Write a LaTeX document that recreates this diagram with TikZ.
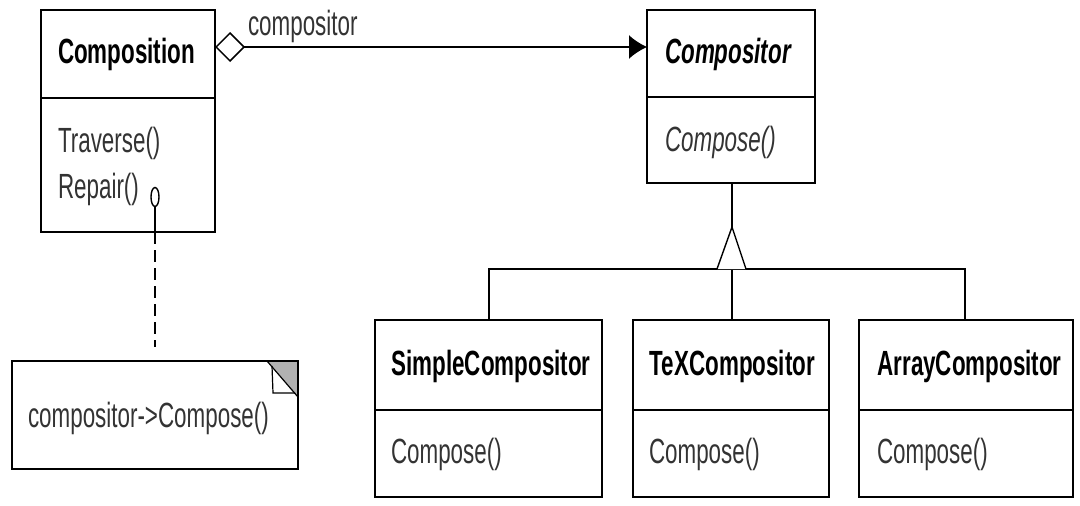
\documentclass[tikz,border=0pt]{standalone}
\usepackage{fontspec}
\setmainfont[FakeStretch=0.64]{Liberation Sans}
\usetikzlibrary{arrows.meta,shapes.geometric}
\begin{document}
\begin{tikzpicture}[x=1pt,y=-1pt,
  every node/.style={inner sep=0pt,outer sep=0pt},
  lw/.style={line width=1.7pt},
  classbox/.style={draw,lw,rectangle},
  title/.style={font=\fontsize{35}{40}\selectfont\bfseries,anchor=base},
  ititle/.style={font=\fontsize{35}{40}\selectfont\bfseries\itshape,anchor=base},
  method/.style={font=\fontsize{35}{40}\selectfont,text=black!80,anchor=base west},
  imethod/.style={font=\fontsize{35}{40}\selectfont\itshape,text=black!80,anchor=base west},
  conn/.style={lw}]
\useasboundingbox (0,0) rectangle (1080,506);
% Composition
\node[classbox,minimum width=174pt,minimum height=222pt] (comp) at (128,121) {};
\draw[lw] (comp.west |- 0,98) -- (comp.east |- 0,98);
\node[title] (compT) at (126.5,63) {Composition};
\node[method] (trav) at (58,152) {Traverse()};
\node[method] (rep) at (58,198) {Repair()};
% Compositor
\node[classbox,minimum width=168pt,minimum height=173pt] (cptr) at (731,96.5) {};
\draw[lw] (cptr.west |- 0,97) -- (cptr.east |- 0,97);
\node[ititle] (cptrT) at (728,63) {Compositor};
\node[imethod] (cptrM) at (665,151) {Compose()};
% Subclasses
\node[classbox,minimum width=227pt,minimum height=177pt] (simple) at (488.5,408.5) {};
\draw[lw] (simple.west |- 0,410) -- (simple.east |- 0,410);
\node[title] (simpleT) at (491,375) {SimpleCompositor};
\node[method] (simpleM) at (391,463) {Compose()};
\node[classbox,minimum width=196pt,minimum height=177pt] (tex) at (731,408.5) {};
\draw[lw] (tex.west |- 0,410) -- (tex.east |- 0,410);
\node[title] (texT) at (732.5,375) {TeXCompositor};
\node[method] (texM) at (649,463) {Compose()};
\node[classbox,minimum width=214pt,minimum height=177pt] (array) at (966,408.5) {};
\draw[lw] (array.west |- 0,410) -- (array.east |- 0,410);
\node[title] (arrayT) at (969.5,375) {ArrayCompositor};
\node[method] (arrayM) at (877,463) {Compose()};
% Note
\node[classbox,minimum width=286pt,minimum height=108pt] (note) at (155,415) {};
\fill[black!30] (267,361) -- (298,361) -- (298,397) -- cycle;
\draw[line width=1.2pt] (267,361) -- (298,397);
\draw[line width=1.2pt] (272,366) -- (273,393) -- (295,393);
\draw[lw] (note.north west) rectangle (note.south east);
\node[method,text=black!80] (noteT) at (28,427) {compositor->Compose()};
% aggregation
\node[method] (aggL) at (248,35) {compositor};
\coordinate (aggS) at (215,47);
\coordinate (aggE) at (647,47);
\draw[conn,{Diamond[open,length=30pt,width=30pt,line width=1.5pt]}-{Latex[length=18pt,width=24pt]}] (aggS) -- (aggE);
% generalization
\coordinate (hub) at (732,269);
\coordinate (apex) at (732,227);
\draw[conn] (apex) -- (cptr.south -| apex);
\draw[conn] (simple.north -| 489,0) |- (hub) -| (array.north -| 965,0);
\draw[conn] (tex.north -| hub) -- (hub);
\draw[line width=1.4pt,fill=white,line join=miter] (717,269) -- (apex) -- (746,269);
% implementation dot
\node[draw,line width=1.4pt,ellipse,minimum width=8pt,minimum height=19pt] (dot) at (155,197) {};
\draw[conn] (dot.south) -- (dot.south |- comp.south);
\draw[conn,dashed,dash pattern=on 12pt off 6pt,shorten >=14pt] (dot.south |- comp.south) -- (dot.south |- note.north);
\end{tikzpicture}
\end{document}
